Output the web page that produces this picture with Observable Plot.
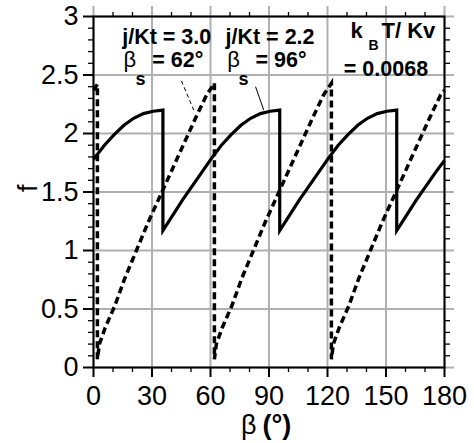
<!DOCTYPE html>
<html><head><meta charset="utf-8">
<script src="https://cdn.jsdelivr.net/npm/d3@7"></script>
<script src="https://cdn.jsdelivr.net/npm/@observablehq/plot@0.6"></script>
<style>html,body{margin:0;padding:0;background:#fff;}</style>
</head><body><div id="chart"></div>
<script>
// tick values
const xMajor = [0, 30, 60, 90, 120, 150, 180];
const xMinor = [10, 20, 40, 50, 70, 80, 100, 110, 130, 140, 160, 170];
const yMajor = [0, 0.5, 1, 1.5, 2, 2.5, 3];
const yMinor = [0.1,0.2,0.3,0.4,0.6,0.7,0.8,0.9,1.1,1.2,1.3,1.4,1.6,1.7,1.8,1.9,2.1,2.2,2.3,2.4,2.6,2.7,2.8,2.9];

// j/Kt = 3.0, beta_s = 62 deg (dashed)
const dashedBeta = [0, 2, 2, 3, 6, 11, 16, 22, 28, 34, 40, 46, 52, 58, 62,
  62, 63, 66, 71, 76, 82, 88, 94, 100, 106, 112, 118, 122,
  122, 123, 126, 131, 136, 142, 148, 154, 160, 166, 172, 178, 180];
const dashedF = [2.37, 2.42, 0.07, 0.2, 0.34, 0.53, 0.76, 1.0, 1.24, 1.46, 1.68, 1.9, 2.12, 2.33, 2.43,
  0.07, 0.2, 0.34, 0.53, 0.76, 1.0, 1.24, 1.46, 1.68, 1.9, 2.12, 2.33, 2.43,
  0.07, 0.2, 0.34, 0.53, 0.76, 1.0, 1.24, 1.46, 1.68, 1.9, 2.12, 2.33, 2.37];

// j/Kt = 2.2, beta_s = 96 deg (solid)
const solidBeta = [0, 5.6, 10.6, 15.6, 20.6, 25.6, 30.6, 35.6,
  35.6, 40.6, 45.6, 50.6, 55.6, 60.6, 65.6, 70.6, 75.6, 80.6, 85.6, 90.6, 95.5,
  95.5, 100.5, 105.5, 110.5, 115.5, 120.5, 125.5, 130.5, 135.5, 140.5, 145.5, 150.5, 155.5,
  155.5, 160.5, 165.5, 170.5, 175.5, 180];
const solidF = [1.78, 1.90, 1.99, 2.07, 2.13, 2.17, 2.19, 2.20,
  1.17, 1.30, 1.43, 1.55, 1.67, 1.79, 1.90, 1.99, 2.07, 2.13, 2.17, 2.19, 2.20,
  1.17, 1.30, 1.43, 1.55, 1.67, 1.79, 1.90, 1.99, 2.07, 2.13, 2.17, 2.19, 2.20,
  1.17, 1.30, 1.43, 1.55, 1.67, 1.77];

// leader lines from labels to curves
const leaderBeta1 = [45.1, 83.1];
const leaderF1 = [2.45, 2.40];
const leaderBeta2 = [51.4, 87.3];
const leaderF2 = [2.20, 2.20];
const leaderDashed = [true, false];

const dashed = dashedBeta.map((b, i) => ({beta: b, f: dashedF[i]}));
const solid = solidBeta.map((b, i) => ({beta: b, f: solidF[i]}));
const leaders = leaderBeta1.map((b, i) => ({b1: b, f1: leaderF1[i], b2: leaderBeta2[i], f2: leaderF2[i], dashed: leaderDashed[i]}));

const FONT = "'Liberation Sans', Arial, Helvetica, sans-serif";
const GRID = "#b0b0b0";
const fmt = d => String(d);

function label(str, dx, dy, size, weight, extra = {}) {
  return Plot.text([str], Object.assign({
    text: d => d, frameAnchor: "top-left", dx, dy, fontSize: size,
    fontWeight: weight, textAnchor: "start", lineAnchor: "bottom", fill: "black"
  }, extra));
}

const chart = Plot.plot({
  width: 474, height: 443,
  marginLeft: 93, marginRight: 30, marginTop: 16, marginBottom: 76,
  style: {fontFamily: FONT, background: "#fff", color: "#000"},
  x: {domain: [0, 180]},
  y: {domain: [0, 3]},
  marks: [
    Plot.ruleX(xMajor, {stroke: GRID, strokeWidth: 2, insetTop: -10}),
    Plot.ruleY(yMajor, {stroke: GRID, strokeWidth: 2, insetRight: -10}),
    Plot.axisX(xMajor, {anchor: "bottom", tickSize: 10, tickPadding: 8, fontSize: 27, strokeWidth: 2, tickFormat: fmt, label: null}),
    Plot.axisX(xMinor, {anchor: "bottom", tickSize: 5, strokeWidth: 1.3, tickFormat: () => "", label: null}),
    Plot.axisX(xMinor, {anchor: "top", tickSize: 5, strokeWidth: 1.3, tickFormat: () => "", label: null}),
    Plot.axisY(yMajor, {anchor: "left", tickSize: 10, tickPadding: 5, fontSize: 27, strokeWidth: 2, tickFormat: fmt, label: null}),
    Plot.axisY(yMinor, {anchor: "left", tickSize: 5, strokeWidth: 1.3, tickFormat: () => "", label: null}),
    Plot.axisY(yMinor, {anchor: "right", tickSize: 5, strokeWidth: 1.3, tickFormat: () => "", label: null}),
    Plot.frame({stroke: "#000", strokeWidth: 2}),
    Plot.link(leaders.filter(d => d.dashed), {x1: "b1", y1: "f1", x2: "b2", y2: "f2", stroke: "#000", strokeWidth: 1, strokeDasharray: "4,3"}),
    Plot.link(leaders.filter(d => !d.dashed), {x1: "b1", y1: "f1", x2: "b2", y2: "f2", stroke: "#000", strokeWidth: 1}),
    Plot.line(dashed, {x: "beta", y: "f", stroke: "#000", strokeWidth: 3.5, strokeDasharray: "7,4", strokeLinecap: "butt", strokeLinejoin: "miter", strokeMiterlimit: 4}),
    Plot.line(solid, {x: "beta", y: "f", stroke: "#000", strokeWidth: 3.2, strokeLinecap: "butt", strokeLinejoin: "miter", strokeMiterlimit: 4}),
    // annotations
    label("j/Kt = 3.0", 28.7, 27, 21.5, "bold"),
    label("β", 30, 50, 22, "normal"),
    label("s", 42, 68, 18, "bold"),
    label("= 62°", 58.7, 50, 21.5, "bold"),
    label("j/Kt = 2.2", 132, 27, 21.5, "bold"),
    label("β", 133.7, 50, 22, "normal"),
    label("s", 145, 68, 18, "bold"),
    label("= 96°", 162, 50, 21.5, "bold"),
    label("k", 257, 21, 22, "bold"),
    label("B", 275, 33, 14, "bold"),
    label("T/ Kv", 288, 21, 22, "bold"),
    label("= 0.0068", 250.3, 59, 21.5, "bold"),
    // axis titles
    label("β", 147.5, 417, 27, "normal"),
    label("(°)", 169, 417, 27, "bold"),
    Plot.text(["f"], {text: d => d, frameAnchor: "left", dx: -65, rotate: -90, fontSize: 27, fill: "black"})
  ]
});
document.getElementById("chart").appendChild(chart);
</script>
</body></html>
